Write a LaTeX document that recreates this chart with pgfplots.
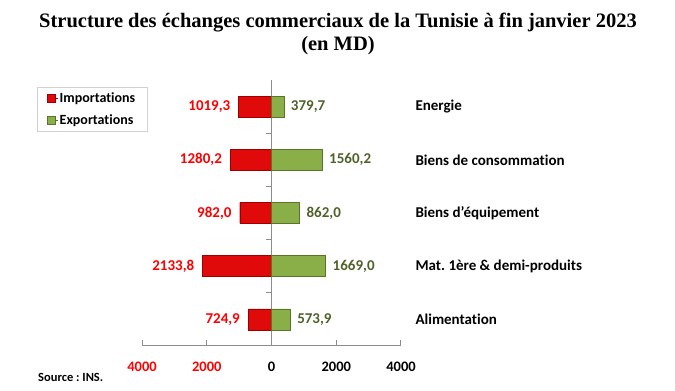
\documentclass[border=0pt]{standalone}
\usepackage{fontspec}
\setmainfont{Carlito}[Ligatures={NoCommon}]
\newfontfamily\titlefont{Liberation Serif}
\usepackage{pgfplots}
\usepackage{pgfplotstable}
\pgfplotsset{compat=1.18}
\definecolor{impred}{HTML}{E00A0A}
\definecolor{impdark}{HTML}{9C0000}
\definecolor{expgreen}{HTML}{8AAE48}
\definecolor{expdark}{HTML}{5A7428}
\definecolor{implab}{HTML}{FF0000}
\definecolor{explab}{HTML}{4F6228}
\definecolor{axgray}{HTML}{8C8C8C}

\pgfplotstableread{
y imp exp implab explab
0 -724.9 573.9 724,9 573,9
1 -2133.8 1669.0 2133,8 1669,0
2 -982.0 862.0 982,0 862,0
3 -1280.2 1560.2 1280,2 1560,2
4 -1019.3 379.7 1019,3 379,7
}\datatable

\begin{document}
\frenchspacing
\begin{tikzpicture}
\useasboundingbox (0,0) rectangle (675pt,391pt);
\node[font=\titlefont\bfseries\fontsize{20.5}{23}\selectfont, align=center] at (338pt,357pt)
  {Structure des échanges commerciaux de la Tunisie à fin janvier 2023\\(en MD)};
\begin{axis}[
  at={(142pt,45pt)}, anchor=south west,
  scale only axis, width=259pt, height=266pt,
  xmin=-4000, xmax=4000, ymin=-0.5, ymax=4.5,
  clip=false,
  xbar, bar width=21pt, bar shift=0pt,
  axis x line=bottom, axis y line=right,
  x axis line style={-, axgray, line width=1pt},
  y axis line style={draw=none},
  ytick={0,1,2,3,4},
  yticklabels={Alimentation, Mat. 1ère \& demi-produits, Biens d'équipement, Biens de consommation, Energie},
  ytick style={draw=none},
  yticklabel style={anchor=west, font=\bfseries\fontsize{15}{17}\selectfont},
  yticklabel shift=11pt,
  xtick={-4000,-2000,0,2000,4000},
  xticklabels={\textcolor{implab}{4000}, \textcolor{implab}{2000}, 0, 2000, 4000},
  xticklabel style={font=\bfseries\fontsize{14.5}{16}\selectfont},
  xticklabel shift=12pt,
  x tick style={axgray, line width=1pt},
  tick align=inside,
  major tick length=6pt,
  extra x ticks={0},
  extra x tick labels={},
  extra x tick style={grid=major, major grid style={axgray, line width=1pt}},
  legend style={at={(rel axis cs:-0.405,0.972)}, anchor=north west, draw=gray!35,
    font=\bfseries\fontsize{14}{16}\selectfont, row sep=7pt, inner xsep=10pt, inner ysep=3pt},
  legend cell align=left,
  legend image code/.code={\path (0pt,0pt) -- (10pt,0pt); \fill[#1] (0pt,-4pt) rectangle (8pt,4pt);},
]
\addplot[fill=impred, draw=impdark,
  nodes near coords, point meta=explicit symbolic,
  every node near coord/.append style={anchor=east, text=implab, font=\bfseries\fontsize{15}{17}\selectfont, inner xsep=8pt}]
  table[x=imp, y=y, meta=implab]{\datatable};
\addplot[fill=expgreen, draw=expdark,
  nodes near coords, point meta=explicit symbolic,
  every node near coord/.append style={anchor=west, text=explab, font=\bfseries\fontsize{15}{17}\selectfont, inner xsep=7pt}]
  table[x=exp, y=y, meta=explab]{\datatable};
\legend{Importations, Exportations}
\pgfplotsinvokeforeach{0.5,1.5,2.5,3.5}{\draw[axgray, line width=1pt] (axis cs:0,#1) -- ++(-5pt,0pt);}
\end{axis}
\node[anchor=west, inner sep=0pt, font=\bfseries\fontsize{12.5}{14}\selectfont] at (38pt,14pt) {Source : INS.};
\end{tikzpicture}
\end{document}
